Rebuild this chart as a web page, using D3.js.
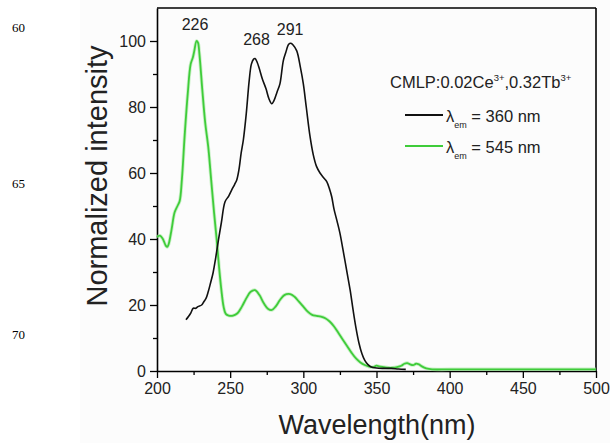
<!DOCTYPE html>
<html>
<head>
<meta charset="utf-8">
<script src="https://cdn.jsdelivr.net/npm/d3@7"></script>
<style>
  body { margin: 0; background: #fff; }
  svg { display: block; font-family: "Liberation Sans", Arial, sans-serif; }
</style>
</head>
<body>
<div id="chart"></div>
<script>
// Data
var greenWave = [200, 202, 204, 206, 207, 208, 210, 212, 214, 215.5, 217, 219, 221, 223, 224.5, 225.5, 227, 228, 229, 231, 233, 235, 237, 239, 240.8, 242.5, 244, 245.5, 247, 249, 252, 255, 258, 261, 264, 267, 270, 273, 276, 278.5, 281, 284, 287, 291, 294, 297, 300, 303, 306, 309, 312, 315, 318, 321, 324, 327, 330, 333, 336, 339, 342, 345, 348, 350, 352, 355, 358, 361, 364, 367, 369, 371, 373, 375, 377, 379, 381, 384, 388, 400, 450, 500];
var greenInt = [40.6, 41, 40, 38, 37.6, 38.5, 43, 48, 50, 51.5, 58, 72, 84, 93, 95, 97, 100, 99.5, 96, 85, 75, 68, 58, 48, 39.7, 31, 24.5, 19.5, 17.3, 16.8, 16.8, 17.5, 19.5, 22, 24, 24.5, 23, 20.5, 18.8, 18.5, 19.5, 21.5, 23, 23.3, 22.5, 21, 19.5, 18, 17, 16.7, 16.5, 16, 15, 13.5, 11.5, 9.5, 7.5, 5.5, 3.8, 2.6, 1.8, 1.3, 1.2, 1.6, 1.4, 1.2, 1.0, 1.0, 1.2, 1.6, 2.2, 2.4, 2.0, 1.8, 2.2, 2.0, 1.4, 0.8, 0.5, 0.5, 0.5, 0.5];

var blackWave = [219.8, 221.5, 223, 224.8, 226.5, 228, 230.5, 232, 233.5, 235, 236.5, 238.3, 240, 242, 244, 246.5, 249, 251, 253, 254.5, 256, 257.5, 259, 261, 263, 264.5, 266, 267, 268.5, 270, 272, 274.5, 276.5, 278.4, 280, 282, 284, 286.3, 288, 290, 291.5, 293, 295.5, 298, 300, 302, 304.6, 306.8, 309, 311.4, 314, 316, 318, 319.4, 321, 323, 325, 327, 330, 332, 334, 336, 338, 340, 342, 344, 346, 350, 355, 360, 365, 370];
var blackInt = [15.5, 16.5, 17.5, 19, 19, 19.5, 20, 21, 22, 24, 26.5, 29.7, 34, 39.7, 45, 51.3, 53, 54.8, 56.5, 57.9, 61, 66, 70, 78, 88, 93, 94.5, 94.7, 93.5, 91.5, 88.5, 85.5, 82.5, 81, 82, 84.5, 87, 94, 96.5, 99, 99.3, 98.8, 97, 92, 87, 80, 71, 65.5, 62, 60, 58.5, 57.4, 55, 52.8, 49, 45.5, 41.8, 37, 29.5, 24.5, 18.5, 13, 8.5, 5.3, 3.2, 2, 1.3, 0.9, 0.8, 0.8, 0.6, 0.5];

var xTicks = [200, 250, 300, 350, 400, 450, 500];
var yTicks = [0, 20, 40, 60, 80, 100];
var peakLabels = [
  { x: 226, y: 100, text: "226", dy: -11 },
  { x: 268, y: 94.7, text: "268", dy: -13 },
  { x: 291, y: 99.3, text: "291", dy: -8 }
];
var lineNumbers = ["60", "65", "70"];

var svgWidth = 610;
var svgHeight = 443;

var margin = { top: 8, right: 14, bottom: 72, left: 157 };
var width = svgWidth - margin.left - margin.right;
var height = svgHeight - margin.top - margin.bottom;

var greenColor = "#3fcc3a";

var svg = d3.select("#chart")
  .append("svg")
  .attr("width", svgWidth)
  .attr("height", svgHeight);

// faint figure background
svg.append("rect")
  .attr("x", 80)
  .attr("y", 0)
  .attr("width", svgWidth - 80)
  .attr("height", svgHeight)
  .attr("fill", "#fcfcfc");

// line numbers from the page
svg.selectAll(".lineNo")
  .data(lineNumbers)
  .enter()
  .append("text")
  .attr("class", "lineNo")
  .attr("x", 12)
  .attr("y", (d, i) => [32, 188, 339][i])
  .attr("font-family", "'Liberation Serif', 'DejaVu Serif', serif")
  .attr("font-size", 13)
  .attr("fill", "#000")
  .text(d => d);

var chartGroup = svg.append("g")
  .attr("transform", `translate(${margin.left}, ${margin.top})`);

var xScale = d3.scaleLinear()
  .domain([200, 500])
  .range([0, width]);

var yScale = d3.scaleLinear()
  .domain([0, 110])
  .range([height, 0]);

// minor ticks
var xMinor = d3.range(225, 500, 50);
var yMinor = d3.range(10, 110, 20);

chartGroup.append("g")
  .attr("transform", `translate(0, ${height})`)
  .call(d3.axisBottom(xScale).tickValues(xMinor).tickSize(4).tickFormat(""))
  .call(g => g.select(".domain").remove())
  .selectAll("line").attr("stroke-width", 1.3);

chartGroup.append("g")
  .call(d3.axisLeft(yScale).tickValues(yMinor).tickSize(4).tickFormat(""))
  .call(g => g.select(".domain").remove())
  .selectAll("line").attr("stroke-width", 1.3);

// main axes
var xAxis = chartGroup.append("g")
  .attr("transform", `translate(0, ${height})`)
  .call(d3.axisBottom(xScale).tickValues(xTicks).tickSize(7).tickSizeOuter(0).tickPadding(5));

var yAxis = chartGroup.append("g")
  .call(d3.axisLeft(yScale).tickValues(yTicks).tickSize(7).tickSizeOuter(0).tickPadding(4));

[xAxis, yAxis].forEach(function(ax) {
  ax.select(".domain").attr("stroke-width", 1.6);
  ax.selectAll("line").attr("stroke-width", 1.3);
  ax.selectAll("text")
    .attr("font-size", 16)
    .attr("fill", "#222")
    .attr("font-family", "'Liberation Sans', Arial, sans-serif");
});

// top and right frame
chartGroup.append("line")
  .attr("x1", 0).attr("x2", width)
  .attr("y1", 0).attr("y2", 0)
  .attr("stroke", "#000").attr("stroke-width", 1.6);
chartGroup.append("line")
  .attr("x1", width).attr("x2", width)
  .attr("y1", 0).attr("y2", height)
  .attr("stroke", "#000").attr("stroke-width", 1.6);

// curves
var greenData = greenWave.map((w, i) => ({ x: w, y: greenInt[i] }));
var blackData = blackWave.map((w, i) => ({ x: w, y: blackInt[i] }));

var line = d3.line()
  .x(d => xScale(d.x))
  .y(d => yScale(d.y))
  .curve(d3.curveCatmullRom);

// soft glow under the green trace
chartGroup.append("path")
  .datum(greenData)
  .attr("d", line)
  .attr("fill", "none")
  .attr("stroke", "#a8eaa4")
  .attr("stroke-width", 3.5)
  .attr("opacity", 0.6);

chartGroup.append("path")
  .datum(greenData)
  .attr("d", line)
  .attr("fill", "none")
  .attr("stroke", greenColor)
  .attr("stroke-width", 1.8);

chartGroup.append("path")
  .datum(blackData)
  .attr("d", line)
  .attr("fill", "none")
  .attr("stroke", "#111")
  .attr("stroke-width", 1.6);

// peak labels
chartGroup.selectAll(".peak")
  .data(peakLabels)
  .enter()
  .append("text")
  .attr("class", "peak")
  .attr("x", d => xScale(d.x))
  .attr("y", d => yScale(d.y) + d.dy)
  .attr("text-anchor", "middle")
  .attr("font-size", 16)
  .attr("fill", "#222")
  .text(d => d.text);

// legend
var legend = svg.append("g");

var title = legend.append("text")
  .attr("x", 390)
  .attr("y", 88)
  .attr("font-size", 16.5)
  .attr("fill", "#222");
title.append("tspan").text("CMLP:0.02Ce");
title.append("tspan").attr("font-size", 9.5).attr("dy", -7).text("3+");
title.append("tspan").attr("dy", 7).text(",0.32Tb");
title.append("tspan").attr("font-size", 9.5).attr("dy", -7).text("3+");

var legendItems = [
  { color: "#111", label: " = 360 nm", y: 115 },
  { color: greenColor, label: " = 545 nm", y: 146 }
];

legendItems.forEach(function(item) {
  legend.append("line")
    .attr("x1", 405).attr("x2", 443)
    .attr("y1", item.y).attr("y2", item.y)
    .attr("stroke", item.color)
    .attr("stroke-width", 2);
  var t = legend.append("text")
    .attr("x", 446)
    .attr("y", item.y + 7)
    .attr("font-size", 16.5)
    .attr("fill", "#222");
  t.append("tspan").text("λ");
  t.append("tspan").attr("font-size", 9).attr("dy", 6).text("em");
  t.append("tspan").attr("dy", -6).text(item.label);
});

// axis titles
svg.append("text")
  .attr("x", 377)
  .attr("y", 434)
  .attr("text-anchor", "middle")
  .attr("font-size", 27)
  .attr("fill", "#222")
  .text("Wavelength(nm)");

svg.append("text")
  .attr("transform", `translate(107, 176) rotate(-90)`)
  .attr("text-anchor", "middle")
  .attr("font-size", 29)
  .attr("fill", "#222")
  .text("Normalized intensity");
</script>
</body>
</html>
